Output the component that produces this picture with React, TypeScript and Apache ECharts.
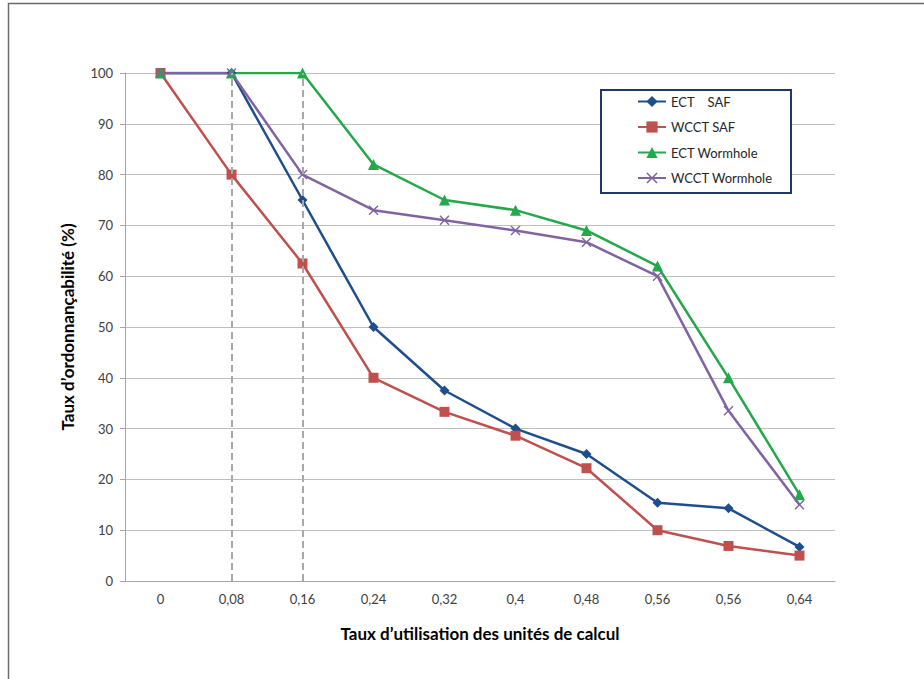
import React, { useEffect, useRef } from "react";
import * as echarts from "echarts";

const categories = ["0", "0,08", "0,16", "0,24", "0,32", "0,4", "0,48", "0,56", "0,56", "0,64"];
const ectSaf = [100, 100, 75, 50, 37.5, 30, 25, 15.4, 14.3, 6.7];
const wcctSaf = [100, 80, 62.5, 40, 33.3, 28.6, 22.2, 10, 6.9, 5];
const ectWormhole = [100, 100, 100, 82, 75, 73, 69, 62, 40, 17];
const wcctWormhole = [100, 100, 80, 73, 71, 69, 66.7, 60, 33.5, 15];
const dashedAt = [1, 2];

const FONT = "Lato, 'Open Sans', sans-serif";
const CROSS = "path://M0,1 L1,0 L5,4 L9,0 L10,1 L6,5 L10,9 L9,10 L5,6 L1,10 L0,9 L4,5 Z";

export default function App() {
  const ref = useRef<HTMLDivElement>(null);
  useEffect(() => {
    if (!ref.current) return;
    const chart = echarts.init(ref.current, null, { renderer: "svg" });
    const mk = (name: string, data: number[], color: string, symbol: string, size: number, extra: any = {}) => ({
      name,
      type: "line",
      data,
      symbol,
      symbolSize: size,
      showAllSymbol: true,
      lineStyle: { color, width: 2.5 },
      itemStyle: { color },
      emphasis: { disabled: true },
      ...extra,
    });
    chart.setOption({
      animation: false,
      backgroundColor: "#ffffff",
      textStyle: { fontFamily: FONT },
      graphic: [
        {
          type: "rect",
          shape: { x: 8.5, y: 3.5, width: 2000, height: 2000 },
          style: { fill: "none", stroke: "#6b6b6b", lineWidth: 1.5 },
          z: 0,
        },
        {
          type: "rect",
          shape: { x: 601, y: 90, width: 190, height: 103 },
          style: { fill: "#ffffff", stroke: "#1F3864", lineWidth: 2 },
          z: 3,
        },
      ],
      legend: {
        orient: "vertical",
        left: 637,
        top: 95,
        padding: 0,
        itemWidth: 28,
        itemHeight: 14,
        itemGap: 12.5,
        textStyle: { fontFamily: FONT, fontSize: 13, color: "#262626" },
        z: 5,
        data: ["ECT    SAF", "WCCT SAF", "ECT Wormhole", "WCCT Wormhole"],
      },
      grid: { left: 125, right: 89, top: 73, bottom: 98, containLabel: false },
      xAxis: {
        type: "category",
        data: categories,
        boundaryGap: true,
        axisLine: { lineStyle: { color: "#A6A6A6", width: 1 } },
        axisTick: { show: false },
        axisLabel: { color: "#404040", fontSize: 13, margin: 11, fontFamily: FONT },
        name: "Taux d’utilisation des unités de calcul",
        nameLocation: "middle",
        nameGap: 44,
        nameTextStyle: { fontFamily: FONT, fontWeight: "bold", fontSize: 17, color: "#000000" },
      },
      yAxis: {
        type: "value",
        min: 0,
        max: 100,
        interval: 10,
        axisLine: { show: true, lineStyle: { color: "#A6A6A6", width: 1 } },
        axisTick: { show: true, length: 5, lineStyle: { color: "#A6A6A6" } },
        axisLabel: { color: "#404040", fontSize: 13, margin: 12, fontFamily: FONT },
        splitLine: { lineStyle: { color: "#BFBFBF", width: 1 } },
        name: "Taux d’ordonnançabilité (%)",
        nameLocation: "middle",
        nameGap: 49,
        nameTextStyle: { fontFamily: FONT, fontWeight: "bold", fontSize: 17, color: "#000000" },
      },
      series: [
        mk("ECT    SAF", ectSaf, "#1F4E8C", "diamond", 10, {
          markLine: {
            silent: true,
            symbol: "none",
            label: { show: false },
            lineStyle: { color: "#A8A8A8", type: [7, 4], width: 2 },
            data: dashedAt.map((i) => ({ xAxis: i })),
          },
        }),
        mk("WCCT SAF", wcctSaf, "#C0504D", "rect", 10),
        mk("ECT Wormhole", ectWormhole, "#23A84A", "triangle", 11),
        mk("WCCT Wormhole", wcctWormhole, "#8064A2", CROSS, 10),
      ],
    });
    return () => chart.dispose();
  }, []);
  return <div ref={ref} style={{ position: "fixed", left: 0, top: 0, width: 924, height: 679 }} />;
}
